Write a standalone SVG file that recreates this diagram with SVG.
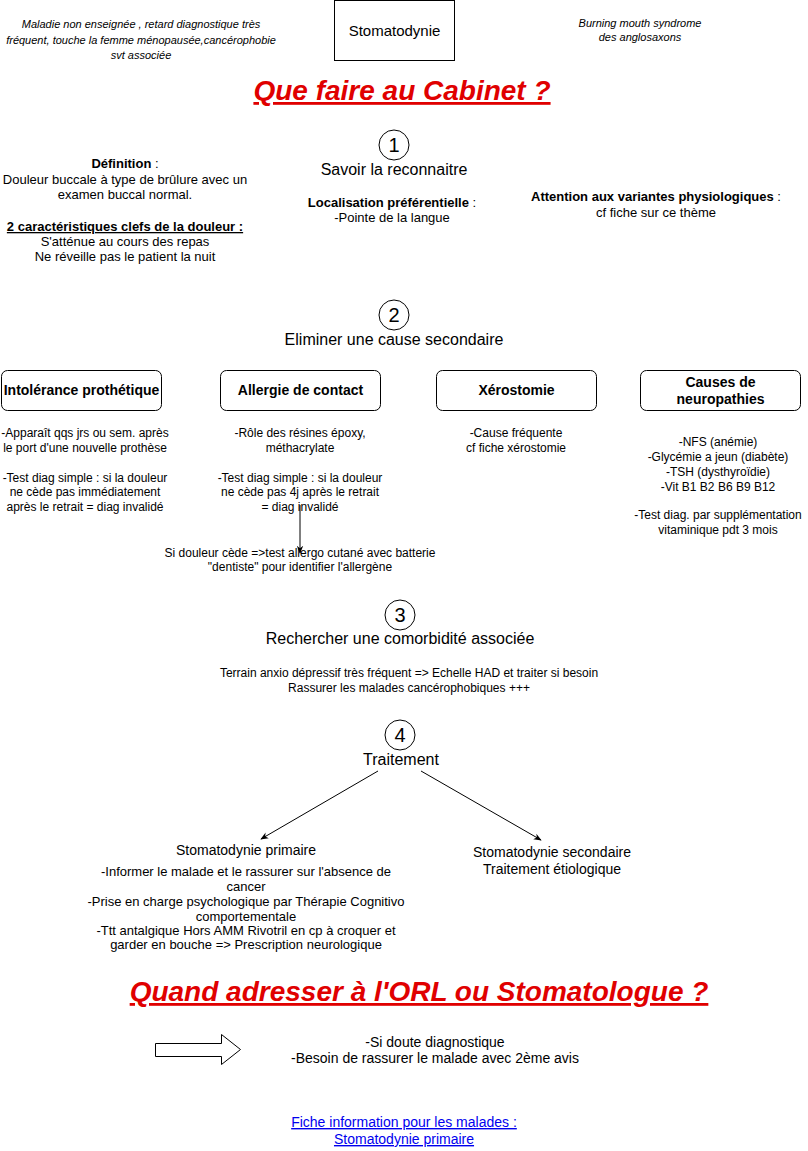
<svg xmlns="http://www.w3.org/2000/svg" width="808" height="1151" viewBox="0 0 808 1151">
<style>
text{font-family:"Liberation Sans",Arial,Helvetica,sans-serif;fill:#000;text-anchor:middle}
.s12{font-size:12px}
.s13{font-size:13px}
.s11i{font-size:11px;font-style:italic}
.s14{font-size:14px}
.s16{font-size:16px}
.num{font-size:20px}
.b{font-weight:bold}
.u{text-decoration:underline}
.title{font-size:28px;font-weight:bold;font-style:italic;fill:#e00000;text-decoration:underline}
.link{font-size:14px;fill:#0000ee;text-decoration:underline}
.box{fill:#fff;stroke:#000;stroke-width:1}
.circ{fill:#fff;stroke:#000;stroke-width:1}
.edge{stroke:#000;stroke-width:1;fill:none}
</style>
<defs>
<marker id="ah" viewBox="0 0 10 10" refX="9" refY="5" markerWidth="8" markerHeight="8" orient="auto" markerUnits="userSpaceOnUse">
<path d="M0,1 L10,5 L0,9 L3,5 Z" fill="#000"/>
</marker>
</defs>
<rect width="808" height="1151" fill="#fff"/>

<g id="intro-left">
<text class="s11i" x="141" y="28">Maladie non enseignée , retard diagnostique très</text>
<text class="s11i" x="141" y="44">fréquent, touche la femme ménopausée,cancérophobie</text>
<text class="s11i" x="141" y="59">svt associée</text>
</g>
<g id="stomatodynie">
<rect class="box" x="334.5" y="0.5" width="120" height="60"/>
<text x="394.5" y="36" style="font-size:15px">Stomatodynie</text>
</g>
<g id="intro-right">
<text class="s11i" x="640" y="27">Burning mouth syndrome</text>
<text class="s11i" x="640" y="41">des anglosaxons</text>
</g>
<g id="title1">
<text class="title" x="402" y="100">Que faire au Cabinet ?</text>
</g>

<g id="step1">
<circle class="circ" cx="394" cy="145" r="15"/>
<text class="num" x="394" y="152">1</text>
<text class="s16" x="394" y="175">Savoir la reconnaitre</text>
</g>
<g id="definition">
<text class="s13" x="125" y="168"><tspan class="b">Définition</tspan> :</text>
<text class="s13" x="125" y="184">Douleur buccale à type de brûlure avec un</text>
<text class="s13" x="125" y="199">examen buccal normal.</text>
<text class="s13 b u" x="125" y="231">2 caractéristiques clefs de la douleur :</text>
<text class="s13" x="125" y="246">S'atténue au cours des repas</text>
<text class="s13" x="125" y="261">Ne réveille pas le patient la nuit</text>
</g>
<g id="localisation">
<text class="s13" x="392" y="207"><tspan class="b">Localisation préférentielle</tspan> :</text>
<text class="s13" x="392" y="222">-Pointe de la langue</text>
</g>
<g id="variantes">
<text class="s13" x="656" y="201"><tspan class="b">Attention aux variantes physiologiques</tspan> :</text>
<text class="s13" x="656" y="217">cf fiche sur ce thème</text>
</g>

<g id="step2">
<circle class="circ" cx="394" cy="315" r="15"/>
<text class="num" x="394" y="322">2</text>
<text class="s16" x="394" y="345">Eliminer une cause secondaire</text>
</g>
<g id="intolerance">
<rect class="box" x="1.5" y="370.5" width="160" height="40" rx="6"/>
<text class="s14 b" x="81.5" y="395">Intolérance prothétique</text>
<text class="s12" x="85" y="437">-Apparaît qqs jrs ou sem. après</text>
<text class="s12" x="85" y="452">le port d'une nouvelle prothèse</text>
<text class="s12" x="85" y="482">-Test diag simple : si la douleur</text>
<text class="s12" x="85" y="496">ne cède pas immédiatement</text>
<text class="s12" x="85" y="511">après le retrait = diag invalidé</text>
</g>
<g id="allergie">
<rect class="box" x="220.5" y="370.5" width="160" height="40" rx="6"/>
<text class="s14 b" x="300.5" y="395">Allergie de contact</text>
<text class="s12" x="300" y="437">-Rôle des résines époxy,</text>
<text class="s12" x="300" y="452">méthacrylate</text>
<text class="s12" x="300" y="482">-Test diag simple : si la douleur</text>
<text class="s12" x="300" y="496">ne cède pas 4j après le retrait</text>
<text class="s12" x="300" y="511">= diag invalidé</text>
</g>
<g id="allergo-test">
<text class="s12" x="300" y="557">Si douleur cède =&gt;test allergo cutané avec batterie</text>
<text class="s12" x="300" y="571">"dentiste" pour identifier l'allergène</text>
</g>
<g id="xerostomie">
<rect class="box" x="436.5" y="370.5" width="160" height="40" rx="6"/>
<text class="s14 b" x="516.5" y="395">Xérostomie</text>
<text class="s12" x="516" y="437">-Cause fréquente</text>
<text class="s12" x="516" y="452">cf fiche xérostomie</text>
</g>
<g id="neuropathies">
<rect class="box" x="640.5" y="370.5" width="160" height="40" rx="6"/>
<text class="s14 b" x="720.5" y="387">Causes de</text>
<text class="s14 b" x="720.5" y="404">neuropathies</text>
<text class="s12" x="718" y="446">-NFS (anémie)</text>
<text class="s12" x="718" y="461">-Glycémie a jeun (diabète)</text>
<text class="s12" x="718" y="476">-TSH (dysthyroïdie)</text>
<text class="s12" x="718" y="491">-Vit B1 B2 B6 B9 B12</text>
<text class="s12" x="718" y="519">-Test diag. par supplémentation</text>
<text class="s12" x="718" y="534">vitaminique pdt 3 mois</text>
</g>

<g id="step3">
<circle class="circ" cx="400" cy="615" r="15"/>
<text class="num" x="400" y="622">3</text>
<text class="s16" x="400" y="644">Rechercher une comorbidité associée</text>
<text class="s12" x="409" y="677">Terrain anxio dépressif très fréquent =&gt; Echelle HAD et traiter si besoin</text>
<text class="s12" x="409" y="692">Rassurer les malades cancérophobiques +++</text>
</g>

<g id="step4">
<circle class="circ" cx="400" cy="735" r="15"/>
<text class="num" x="400" y="742">4</text>
<text class="s16" x="401" y="765">Traitement</text>
</g>
<g id="primaire">
<text class="s14" x="246" y="855">Stomatodynie primaire</text>
<text class="s13" x="246" y="876">-Informer le malade et le rassurer sur l'absence de</text>
<text class="s13" x="246" y="891">cancer</text>
<text class="s13" x="246" y="906">-Prise en charge psychologique par Thérapie Cognitivo</text>
<text class="s13" x="246" y="921">comportementale</text>
<text class="s13" x="246" y="935">-Ttt antalgique Hors AMM Rivotril en cp à croquer et</text>
<text class="s13" x="246" y="949">garder en bouche =&gt; Prescription neurologique</text>
</g>
<g id="secondaire">
<text class="s14" x="552" y="857">Stomatodynie secondaire</text>
<text class="s14" x="552" y="874">Traitement étiologique</text>
</g>

<g id="title2">
<text class="title" x="419" y="1001">Quand adresser à l'ORL ou Stomatologue ?</text>
</g>
<g id="block-arrow">
<path d="M155.5,1043.5 L221.5,1043.5 L221.5,1034.5 L240.5,1049.5 L221.5,1064.5 L221.5,1056.5 L155.5,1056.5 Z" fill="#fff" stroke="#000" stroke-width="1"/>
</g>
<g id="orl-reasons">
<text class="s14" x="435" y="1047">-Si doute diagnostique</text>
<text class="s14" x="435" y="1063">-Besoin de rassurer le malade avec 2ème avis</text>
</g>
<g id="fiche-link">
<text class="link" x="404" y="1127">Fiche information pour les malades :</text>
<text class="link" x="404" y="1144">Stomatodynie primaire</text>
</g>

<g id="connectors">
<line class="edge" x1="300" y1="505" x2="300" y2="553" marker-end="url(#ah)"/>
<line class="edge" x1="378" y1="771" x2="261" y2="839" marker-end="url(#ah)"/>
<line class="edge" x1="421" y1="771" x2="541" y2="840" marker-end="url(#ah)"/>
</g>
</svg>
